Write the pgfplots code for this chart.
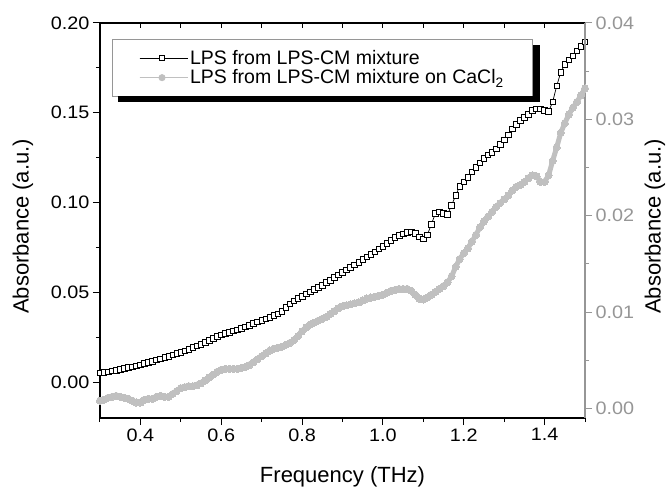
\documentclass[border=0pt]{standalone}
\usepackage{fontspec}
\setmainfont{Liberation Sans}
\newfontfamily\tickfont{Liberation Sans}[FakeStretch=1.1]
\usepackage{pgfplots}
\usepackage{pgfplotstable}
\pgfplotsset{compat=1.18}
\definecolor{markgray}{RGB}{192,192,192}
\definecolor{axisgray}{RGB}{150,150,150}

\pgfplotstableread{
x y
0.30 0.0052
0.31 0.0055
0.32 0.0058
0.33 0.0062
0.34 0.0066
0.35 0.0071
0.36 0.0076
0.37 0.0081
0.38 0.0086
0.39 0.0091
0.40 0.0097
0.41 0.0103
0.42 0.0109
0.43 0.0116
0.44 0.0123
0.45 0.0130
0.46 0.0137
0.47 0.0144
0.48 0.0151
0.49 0.0159
0.50 0.0167
0.51 0.0175
0.52 0.0183
0.53 0.0192
0.54 0.0201
0.55 0.0210
0.56 0.0221
0.57 0.0233
0.58 0.0245
0.59 0.0255
0.60 0.0264
0.61 0.0271
0.62 0.0278
0.63 0.0285
0.64 0.0292
0.65 0.0300
0.66 0.0308
0.67 0.0317
0.68 0.0326
0.69 0.0335
0.70 0.0344
0.71 0.0353
0.72 0.0362
0.73 0.0371
0.74 0.0381
0.75 0.0395
0.76 0.0415
0.77 0.0435
0.78 0.0452
0.79 0.0466
0.80 0.0479
0.81 0.0491
0.82 0.0503
0.83 0.0515
0.84 0.0527
0.85 0.0540
0.86 0.0554
0.87 0.0568
0.88 0.0582
0.89 0.0597
0.90 0.0611
0.91 0.0625
0.92 0.0639
0.93 0.0654
0.94 0.0668
0.95 0.0683
0.96 0.0697
0.97 0.0711
0.98 0.0726
0.99 0.0741
1.00 0.0756
1.01 0.0772
1.02 0.0789
1.03 0.0805
1.04 0.0817
1.05 0.0825
1.06 0.0833
1.07 0.0836
1.08 0.0830
1.09 0.0810
1.10 0.0797
1.11 0.0820
1.12 0.0880
1.13 0.0940
1.14 0.0948
1.15 0.0940
1.16 0.0935
1.17 0.0985
1.18 0.1040
1.19 0.1090
1.20 0.1115
1.21 0.1140
1.22 0.1170
1.23 0.1195
1.24 0.1220
1.25 0.1245
1.26 0.1265
1.27 0.1280
1.28 0.1300
1.29 0.1325
1.30 0.1350
1.31 0.1378
1.32 0.1410
1.33 0.1435
1.34 0.1457
1.35 0.1475
1.36 0.1492
1.37 0.1512
1.38 0.1522
1.39 0.1522
1.40 0.1515
1.41 0.1508
1.42 0.1560
1.43 0.1650
1.44 0.1725
1.45 0.1770
1.46 0.1795
1.47 0.1818
1.48 0.1845
1.49 0.1870
1.50 0.1895
}\blackdata

\pgfplotstableread{
x y
0.30 0.0008
0.31 0.0009
0.32 0.0011
0.33 0.0012
0.34 0.0013
0.35 0.0012
0.36 0.0011
0.37 0.0010
0.38 0.0008
0.39 0.0006
0.40 0.0006
0.41 0.0009
0.42 0.0010
0.43 0.0010
0.44 0.0012
0.45 0.0013
0.46 0.0012
0.47 0.0012
0.48 0.0015
0.49 0.0018
0.50 0.0021
0.51 0.0022
0.52 0.0023
0.53 0.0023
0.54 0.0024
0.55 0.0026
0.56 0.0029
0.57 0.0032
0.58 0.0035
0.59 0.0038
0.60 0.0040
0.61 0.0041
0.62 0.0041
0.63 0.0041
0.64 0.0041
0.65 0.0042
0.66 0.0043
0.67 0.0045
0.68 0.0048
0.69 0.0051
0.70 0.0054
0.71 0.0057
0.72 0.0060
0.73 0.0062
0.74 0.0063
0.75 0.0064
0.76 0.0066
0.77 0.0068
0.78 0.0071
0.79 0.0075
0.80 0.0080
0.81 0.0084
0.82 0.0087
0.83 0.0089
0.84 0.0091
0.85 0.0093
0.86 0.0095
0.87 0.0098
0.88 0.0101
0.89 0.0104
0.90 0.0106
0.91 0.0107
0.92 0.0108
0.93 0.0109
0.94 0.0110
0.95 0.0112
0.96 0.0114
0.97 0.0115
0.98 0.0116
0.99 0.0117
1.00 0.0118
1.01 0.0120
1.02 0.0122
1.03 0.0123
1.04 0.0124
1.05 0.0124
1.06 0.0124
1.07 0.0122
1.08 0.0118
1.09 0.0114
1.10 0.0113
1.11 0.0115
1.12 0.0118
1.13 0.0121
1.14 0.0124
1.15 0.0127
1.16 0.0131
1.17 0.0137
1.18 0.0147
1.19 0.0155
1.20 0.0161
1.21 0.0166
1.22 0.0173
1.23 0.0180
1.24 0.0188
1.25 0.0194
1.26 0.0199
1.27 0.0204
1.28 0.0209
1.29 0.0213
1.30 0.0217
1.31 0.0221
1.32 0.0226
1.33 0.0230
1.34 0.0232
1.35 0.0235
1.36 0.0239
1.37 0.0242
1.38 0.0241
1.39 0.0235
1.40 0.0235
1.41 0.0242
1.42 0.0257
1.43 0.0271
1.44 0.0286
1.45 0.0296
1.46 0.0305
1.47 0.0312
1.48 0.0318
1.49 0.0325
1.50 0.0332
}\graydata

\begin{document}
\begin{tikzpicture}
\path[use as bounding box] (-100pt,-69pt) rectangle (566pt,418pt);
\pgfplotsset{
  common/.style={scale only axis, width=485pt, height=395pt, xmin=0.3, xmax=1.5,
    scaled ticks=false,
    /pgf/number format/assume math mode=true,
    tick label style={font=\tickfont\fontsize{18}{20}\selectfont},
    label style={font=\fontsize{22}{24}\selectfont},
    major tick length=7pt, minor tick length=4pt,
    every tick/.style={line width=1pt},
  }
}
\begin{axis}[common,
  ymin=-0.02, ymax=0.20,
  axis x line*=bottom, axis y line*=left,
  axis line style={line width=1.2pt, -},
  tick align=outside,
  xtick={0.4,0.6,0.8,1.0,1.2,1.4},
  minor xtick={0.3,0.5,0.7,0.9,1.1,1.3,1.5},
  ytick={0,0.05,0.10,0.15,0.20},
  minor ytick={0.025,0.075,0.125,0.175},
  xticklabel style={/pgf/number format/.cd, fixed, fixed zerofill, precision=1},
  yticklabel style={/pgf/number format/.cd, fixed, fixed zerofill, precision=2},
  xlabel={Frequency (THz)}, ylabel={Absorbance (a.u.)},
  xlabel style={at={(axis description cs:0.5,-0.164)}, anchor=base},
  ylabel style={at={(axis description cs:-0.159,0.485)}, anchor=center},
]
\addplot[black, line width=0.7pt, mark=square*, mark size=2.8pt, mark options={fill=white, line width=0.7pt}] table {\blackdata};
\end{axis}

\begin{axis}[common,
  ymin=0, ymax=1,
  axis x line*=top, axis y line=none,
  axis line style={line width=1.2pt, -},
  tick align=inside,
  major tick length=5pt, minor tick length=5pt,
  xtick={0.4,0.6,0.8,1.0,1.2,1.4},
  minor xtick={0.3,0.5,0.7,0.9,1.1,1.3,1.5},
  xticklabels={},
]
\end{axis}

\begin{axis}[common,
  ymin=-0.001, ymax=0.04,
  axis x line=none, axis y line*=right,
  axis line style={line width=1.2pt, axisgray, -},
  tick align=outside,
  ytick={0,0.01,0.02,0.03,0.04},
  minor ytick={0.005,0.015,0.025,0.035},
  y tick style={axisgray},
  yticklabel style={text=axisgray, /pgf/number format/.cd, fixed, fixed zerofill, precision=2},
  ylabel={Absorbance (a.u.)},
  ylabel style={at={(axis description cs:1.144,0.485)}, anchor=center},
  legend style={name=leg, at={(0.024,0.9587)}, anchor=north west, draw=axisgray, line width=0.8pt, fill=white,
    font=\fontsize{19.5}{22}\selectfont, inner xsep=27pt, inner ysep=8.5pt},
  legend cell align=left,
  legend image code/.code={%
    \path (0pt,0pt) -- (48pt,0pt);
    \draw[mark repeat=2, mark phase=2, #1] plot coordinates {(0pt,0pt) (22.5pt,0pt) (45pt,0pt)};},
]
\addplot[markgray, line width=5pt, mark=*, mark size=3.6pt, mark options={line width=0pt}, forget plot] table {\graydata};
\addlegendimage{black, line width=0.8pt, mark=square*, mark size=2.6pt, mark options={fill=white}}
\addlegendentry{LPS from LPS-CM mixture}
\addlegendimage{markgray, line width=1pt, mark=*, mark size=3pt}
\addlegendentry{LPS from LPS-CM mixture on CaCl\textsubscript{2}}
\end{axis}
\fill[black] ([yshift=-6pt]leg.north east) rectangle ([xshift=7pt,yshift=-6pt]leg.south east);
\fill[black] ([xshift=6pt]leg.south west) rectangle ([xshift=7pt,yshift=-6pt]leg.south east);
\end{tikzpicture}
\end{document}
